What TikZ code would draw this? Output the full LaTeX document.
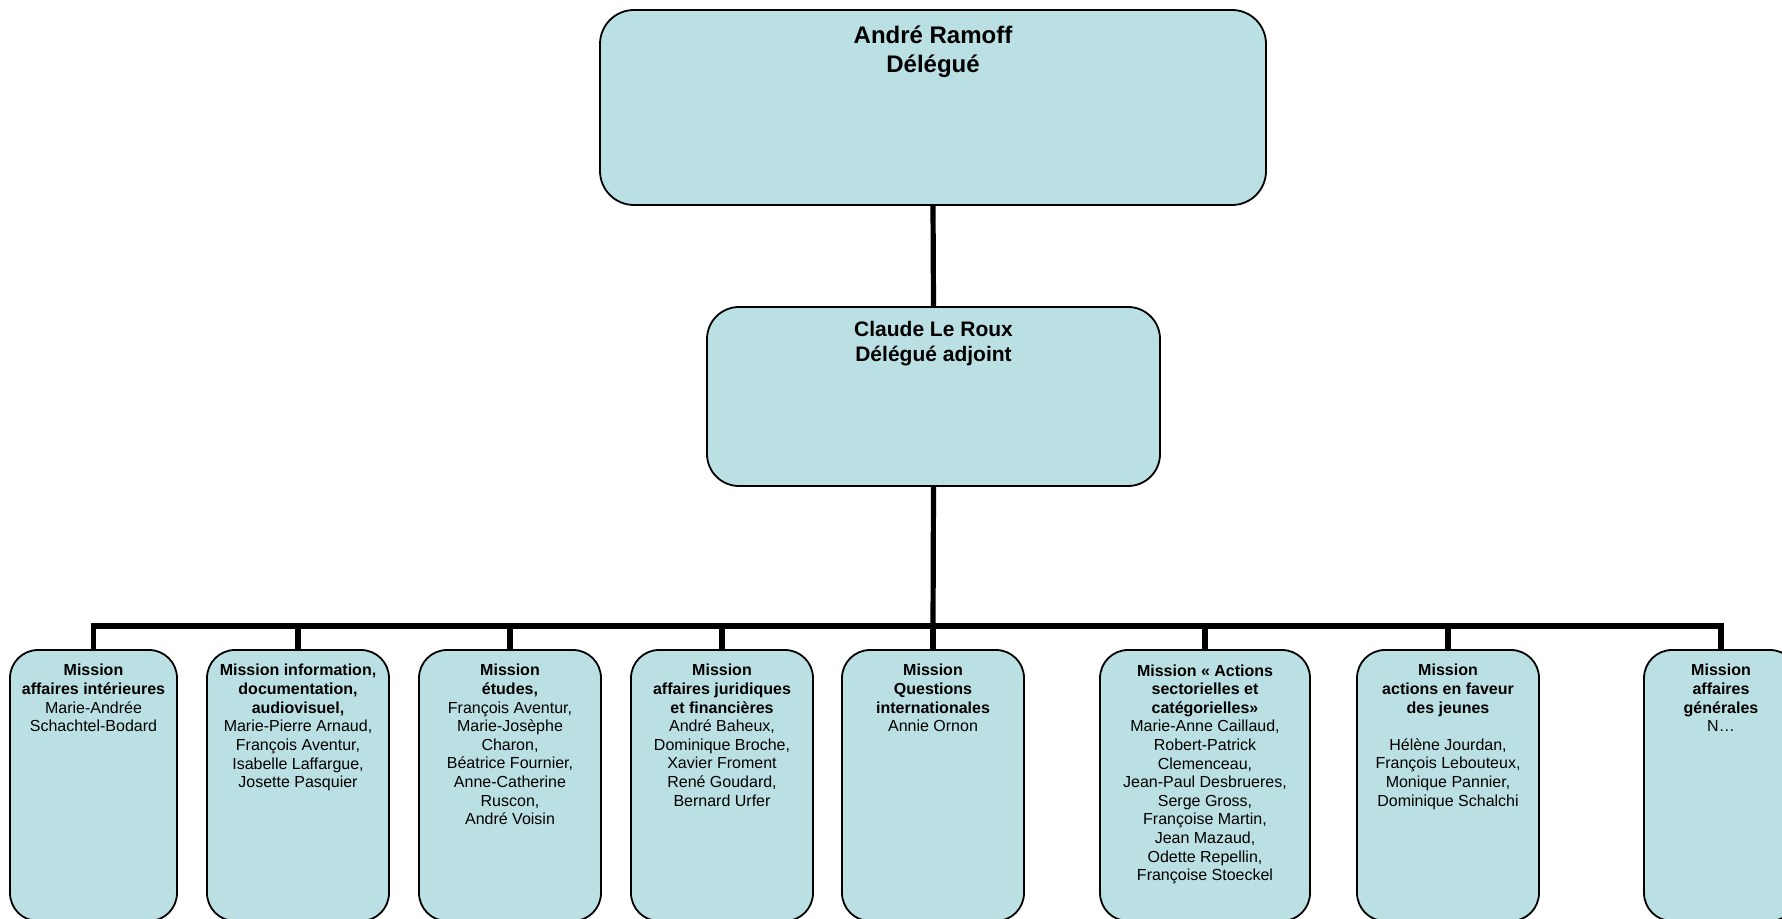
\documentclass[tikz,border=0pt]{standalone}
\usepackage{fontspec}
\setmainfont{Liberation Sans}
\usepackage{tikz}
\usetikzlibrary{positioning}
\definecolor{boxblue}{RGB}{187,224,227}

\begin{document}
\begin{tikzpicture}[x=0.5pt,y=-0.5pt,
  box/.style={draw,fill=boxblue,line width=0.9pt,rounded corners=14pt,inner sep=0pt},
  bigbox/.style={box,rounded corners=17pt},
  mbox/.style={box,minimum height=135.5pt,minimum width=91pt},
  bigtext/.style={align=center,inner sep=0pt,font=\fontsize{12}{14.5}\selectfont\bfseries,execute at begin node=\strut},
  midtext/.style={align=center,inner sep=0pt,font=\fontsize{10.5}{12.65}\selectfont\bfseries,execute at begin node=\strut},
  mtext/.style={align=center,inner sep=0pt,font=\fontsize{8}{9.3}\selectfont,execute at begin node=\strut},
  link/.style={line width=2.6pt}]
\useasboundingbox (0,0) rectangle (1782,919);
\clip (0,0) rectangle (1782,919);

\node[bigbox,minimum width=333pt,minimum height=97.5pt] (ramoff) at (933,107.5) {};
\node[bigbox,minimum width=226.5pt,minimum height=89.5pt,rounded corners=16pt] (leroux) at (933.5,396.5) {};
\node[bigtext,below=8pt of ramoff.north] (ramoff-t) {André Ramoff\\Délégué};
\node[midtext,below=7.2pt of leroux.north] (leroux-t) {Claude Le Roux\\Délégué adjoint};

\node[mbox,minimum width=83.5pt] (interieur) at (93.5,785.5) {};
\node[mbox] (info) at (298,785.5) {};
\node[mbox] (etudes) at (510,785.5) {};
\node[mbox] (juridique) at (722,785.5) {};
\node[mbox] (inter) at (933,785.5) {};
\node[mbox,minimum width=105pt] (actions) at (1205,785.5) {};
\node[mbox] (jeunes) at (1448,785.5) {};
\node[mbox,minimum width=77pt] (generales) at (1721,785.5) {};

\node[mtext,below=7.45pt of interieur.north] (interieur-t) {\textbf{Mission}\\\textbf{affaires intérieures}\\Marie-Andrée\\Schachtel-Bodard};
\node[mtext,below=7.45pt of info.north] (info-t) {\textbf{Mission information,}\\\textbf{documentation,}\\\textbf{audiovisuel,}\\Marie-Pierre Arnaud,\\François Aventur,\\Isabelle Laffargue,\\Josette Pasquier};
\node[mtext,below=7.45pt of etudes.north] (etudes-t) {\textbf{Mission}\\\textbf{études,}\\François Aventur,\\Marie-Josèphe\\Charon,\\Béatrice Fournier,\\Anne-Catherine\\Ruscon,\\André Voisin};
\node[mtext,below=7.45pt of juridique.north] (juridique-t) {\textbf{Mission}\\\textbf{affaires juridiques}\\\textbf{et financières}\\André Baheux,\\Dominique Broche,\\Xavier Froment\\René Goudard,\\Bernard Urfer};
\node[mtext,below=7.45pt of inter.north] (inter-t) {\textbf{Mission}\\\textbf{Questions}\\\textbf{internationales}\\Annie Ornon};
\node[mtext,below=7.45pt of actions.north] (actions-t) {\textbf{Mission « Actions}\\\textbf{sectorielles et}\\\textbf{catégorielles»}\\Marie-Anne Caillaud,\\Robert-Patrick\\Clemenceau,\\Jean-Paul Desbrueres,\\Serge Gross,\\Françoise Martin,\\Jean Mazaud,\\Odette Repellin,\\Françoise Stoeckel};
\node[mtext,below=7.45pt of jeunes.north] (jeunes-t) {\textbf{Mission}\\\textbf{actions en faveur}\\\textbf{des jeunes}\\[9.3pt]Hélène Jourdan,\\François Lebouteux,\\Monique Pannier,\\Dominique Schalchi};
\node[mtext,below=7.45pt of generales.north] (generales-t) {\textbf{Mission}\\\textbf{affaires}\\\textbf{générales}\\N…};

\coordinate (bus) at (933,626);
\draw[link] (ramoff.south) -- (leroux.north);
\draw[link] (leroux.south) -- (bus);
\foreach \m in {interieur,info,etudes,juridique,inter,actions,jeunes,generales}
  \draw[link] (\m.north) |- (bus);
\end{tikzpicture}
\end{document}
